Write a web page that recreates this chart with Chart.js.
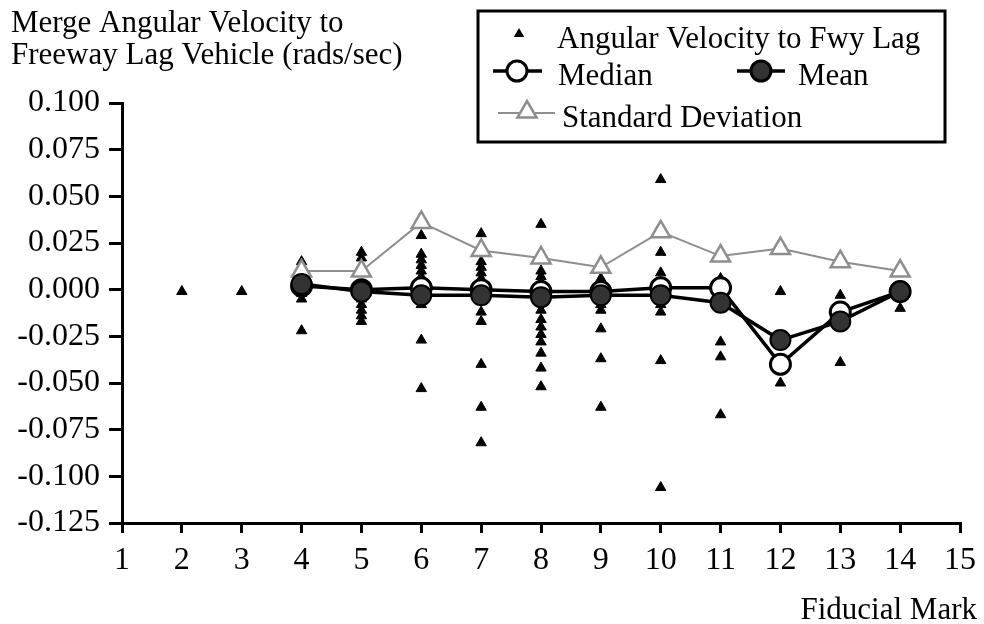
<!DOCTYPE html>
<html>
<head>
<meta charset="utf-8">
<script src="https://cdn.jsdelivr.net/npm/chart.js@4/dist/chart.umd.min.js"></script>
<style>
  html, body { margin: 0; padding: 0; background: #fff; }
  #grafica { display: block; }
</style>
</head>
<body>
<canvas id="grafica" width="984" height="624"></canvas>
<script>
// Marcas fiduciales con observaciones individuales
const marcasPuntos = [2, 3, 4, 5, 6, 7, 8, 9, 10, 11, 12, 13, 14];
const velocidadPuntos = [
    [-0.001],
    [-0.001],
    [0.015, 0.012, 0.004, 0.002, 0.000, -0.002, -0.005, -0.022],
    [0.020, 0.017, 0.002, 0.000, -0.002, -0.005, -0.008, -0.011, -0.014, -0.017],
    [0.029, 0.019, 0.016, 0.013, 0.010, 0.007, 0.004, 0.001, -0.002, -0.005, -0.008, -0.027, -0.053],
    [0.030, 0.015, 0.012, 0.009, 0.006, 0.003, 0.000, -0.003, -0.012, -0.017, -0.040, -0.063, -0.082],
    [0.035, 0.010, 0.007, 0.004, 0.001, -0.002, -0.005, -0.011, -0.016, -0.020, -0.024, -0.028, -0.034, -0.042, -0.052],
    [0.006, 0.003, 0.000, -0.004, -0.008, -0.011, -0.021, -0.037, -0.063],
    [0.059, 0.020, 0.009, 0.004, 0.000, -0.004, -0.008, -0.012, -0.038, -0.106],
    [0.006, 0.001, -0.004, -0.028, -0.036, -0.067],
    [-0.001, -0.050],
    [-0.003, -0.039],
    [-0.001, -0.010]
];

// Estadisticos por marca
const marcasResumen = [4, 5, 6, 7, 8, 9, 10, 11, 12, 13, 14];
const mediana    = [0.002, 0.000, 0.001, 0.000, -0.001, -0.001, 0.001, 0.001, -0.040, -0.012, -0.001];
const media      = [0.003, -0.001, -0.003, -0.003, -0.004, -0.003, -0.003, -0.007, -0.027, -0.017, -0.001];
const desviacion = [0.010, 0.010, 0.036, 0.021, 0.017, 0.012, 0.031, 0.018, 0.022, 0.015, 0.010];

const ticksY = [0.100, 0.075, 0.050, 0.025, 0.000, -0.025, -0.050, -0.075, -0.100, -0.125];
const ticksX = [1, 2, 3, 4, 5, 6, 7, 8, 9, 10, 11, 12, 13, 14, 15];

const fuente = "'Liberation Serif', 'Times New Roman', serif";
const grisDesv = "#8e8e8e";

const puntos = [];
marcasPuntos.forEach((m, i) => {
    velocidadPuntos[i].forEach(v => puntos.push({ x: m, y: v }));
});
const serie = valores => marcasResumen.map((m, i) => ({ x: m, y: valores[i] }));

// Triangulo simple para la leyenda
function triangulo(ctx, x, y, r, relleno, borde, ancho) {
    ctx.beginPath();
    ctx.moveTo(x, y - r);
    ctx.lineTo(x + r * 0.87, y + r * 0.5);
    ctx.lineTo(x - r * 0.87, y + r * 0.5);
    ctx.closePath();
    ctx.fillStyle = relleno;
    ctx.fill();
    if (borde) {
        ctx.lineWidth = ancho;
        ctx.strokeStyle = borde;
        ctx.stroke();
    }
}

function circulo(ctx, x, y, r, relleno) {
    ctx.beginPath();
    ctx.arc(x, y, r, 0, Math.PI * 2);
    ctx.fillStyle = relleno;
    ctx.fill();
    ctx.lineWidth = 3;
    ctx.strokeStyle = "#000";
    ctx.stroke();
}

const textosExtra = {
    id: "textosExtra",
    afterDraw(chart) {
        const ctx = chart.ctx;
        ctx.save();
        ctx.fillStyle = "#000";
        ctx.textBaseline = "alphabetic";

        // titulo del eje vertical
        ctx.font = `31px ${fuente}`;
        ctx.textAlign = "left";
        ctx.fillText("Merge Angular Velocity to", 11, 32);
        ctx.fillText("Freeway Lag Vehicle (rads/sec)", 11, 64);

        // titulo del eje horizontal
        ctx.textAlign = "right";
        ctx.fillText("Fiducial Mark", 977, 619);

        // leyenda
        ctx.fillStyle = "#fff";
        ctx.fillRect(478, 11, 467, 131);
        ctx.lineWidth = 3;
        ctx.strokeStyle = "#000";
        ctx.strokeRect(478, 11, 467, 131);

        ctx.textAlign = "left";
        triangulo(ctx, 519, 34, 6, "#000");
        ctx.fillStyle = "#000";
        ctx.fillText("Angular Velocity to Fwy Lag", 557, 48);

        ctx.beginPath();
        ctx.moveTo(493, 71); ctx.lineTo(542, 71);
        ctx.moveTo(737, 71); ctx.lineTo(785, 71);
        ctx.lineWidth = 3.5;
        ctx.strokeStyle = "#000";
        ctx.stroke();
        circulo(ctx, 517, 71, 10, "#fff");
        circulo(ctx, 761, 71, 10, "#333");
        ctx.fillStyle = "#000";
        ctx.fillText("Median", 558, 85);
        ctx.fillText("Mean", 798, 85);

        ctx.beginPath();
        ctx.moveTo(498, 113); ctx.lineTo(555, 113);
        ctx.lineWidth = 2;
        ctx.strokeStyle = grisDesv;
        ctx.stroke();
        triangulo(ctx, 527, 112, 11, "#fff", grisDesv, 2.5);
        ctx.fillStyle = "#000";
        ctx.fillText("Standard Deviation", 562, 127);

        ctx.restore();
    }
};

new Chart(document.getElementById("grafica"), {
    type: "scatter",
    data: {
        datasets: [
            {
                label: "Mean",
                type: "line",
                data: serie(media),
                borderColor: "#000",
                borderWidth: 3.5,
                pointStyle: "circle",
                pointRadius: 10,
                pointBackgroundColor: "#333",
                pointBorderColor: "#000",
                pointBorderWidth: 2,
                tension: 0,
                order: 0
            },
            {
                label: "Median",
                type: "line",
                data: serie(mediana),
                borderColor: "#000",
                borderWidth: 3.5,
                pointStyle: "circle",
                pointRadius: 10,
                pointBackgroundColor: "#fff",
                pointBorderColor: "#000",
                pointBorderWidth: 3,
                tension: 0,
                order: 1
            },
            {
                label: "Standard Deviation",
                type: "line",
                data: serie(desviacion),
                borderColor: grisDesv,
                borderWidth: 2,
                pointStyle: "triangle",
                pointRadius: 11,
                pointBackgroundColor: "#fff",
                pointBorderColor: grisDesv,
                pointBorderWidth: 2.5,
                tension: 0,
                order: 2
            },
            {
                label: "Angular Velocity to Fwy Lag",
                data: puntos,
                pointStyle: "triangle",
                pointRadius: 6,
                pointBackgroundColor: "#000",
                pointBorderColor: "#000",
                pointBorderWidth: 1,
                order: 3
            }
        ]
    },
    options: {
        responsive: false,
        animation: false,
        events: [],
        layout: { padding: { top: 103, right: 22, left: 0, bottom: 0 } },
        plugins: {
            legend: { display: false },
            tooltip: { enabled: false }
        },
        scales: {
            x: {
                type: "linear",
                min: ticksX[0],
                max: ticksX[ticksX.length - 1],
                afterBuildTicks: s => { s.ticks = ticksX.map(v => ({ value: v })); },
                afterFit: s => { s.height = 101; },
                border: { display: true, color: "#000", width: 3 },
                grid: { drawOnChartArea: false, drawTicks: true, tickLength: 10, color: "#000", lineWidth: 3 },
                ticks: {
                    color: "#000",
                    padding: 8,
                    maxRotation: 0,
                    autoSkip: false,
                    font: { family: fuente, size: 32 }
                }
            },
            y: {
                type: "linear",
                min: ticksY[ticksY.length - 1],
                max: ticksY[0],
                afterBuildTicks: s => { s.ticks = ticksY.slice().reverse().map(v => ({ value: v })); },
                afterFit: s => { s.width = 122; },
                border: { display: true, color: "#000", width: 3 },
                grid: { drawOnChartArea: false, drawTicks: true, tickLength: 13, color: "#000", lineWidth: 3 },
                ticks: {
                    color: "#000",
                    padding: 9,
                    font: { family: fuente, size: 32 },
                    callback: v => v.toFixed(3)
                }
            }
        }
    },
    plugins: [textosExtra]
});
</script>
</body>
</html>
